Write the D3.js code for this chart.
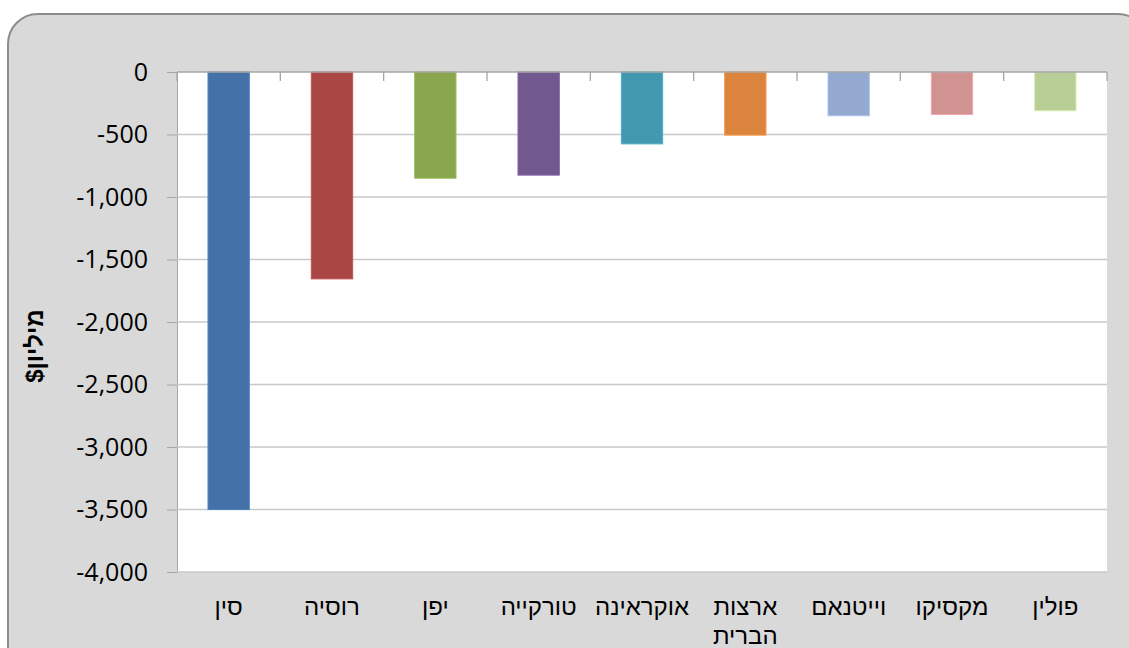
<!DOCTYPE html>
<html><head><meta charset="utf-8">
<script src="https://cdn.jsdelivr.net/npm/d3@7"></script>
<style>html,body{margin:0;padding:0;background:#fff;}svg{display:block;}</style>
</head><body>
<svg id="chart" width="1129" height="648"></svg>
<script>
const categories = ["סין","רוסיה","יפן","טורקייה","אוקראינה","ארצות הברית","וייטנאם","מקסיקו","פולין"];
const values = [-3500,-1655,-850,-825,-575,-505,-350,-340,-310];
const colors = ["#4472A8","#AA4643","#89A54E","#71588F","#4198AF","#DB843D","#93A9CF","#D19392","#B9CD96"];
const yTicks = [0,-500,-1000,-1500,-2000,-2500,-3000,-3500,-4000];
const yTitle = "מיליון$";

const svg = d3.select("#chart");
const font = "'Open Sans','DejaVu Sans',sans-serif";
const hfont = "'Liberation Sans','DejaVu Sans',sans-serif";
svg.append("rect").attr("x",8).attr("y",14).attr("width",1140).attr("height",680)
  .attr("rx",30).attr("ry",30).attr("fill","#D9D9D9").attr("stroke","#8C8C8C").attr("stroke-width",2);

const L=177,R=1107,T=72,B=572;
const x = d3.scaleBand().domain(categories).range([L,R]).paddingInner(0.6).paddingOuter(0.3);
const xb = d3.scaleBand().domain(categories).range([L,R]);
const y = d3.scaleLinear().domain([0,-4000]).range([T,B]);

svg.append("rect").attr("x",L).attr("y",T).attr("width",R-L).attr("height",B-T).attr("fill","#fff");

// gridlines + y axis
const yAxis = d3.axisLeft(y).tickValues(yTicks).tickSize(10).tickFormat(d3.format(",.0f"));
const gy = svg.append("g").attr("transform",`translate(${L},0)`).call(yAxis);
gy.select(".domain").attr("stroke","#A6A6A6");
gy.selectAll(".tick line").attr("stroke","#A6A6A6");
gy.selectAll(".tick text").attr("x",-29).attr("font-family",font).attr("font-size",25).attr("fill","#000")
  .text(d=>d3.format(",")(d).replace("−","-"));
svg.append("g").selectAll("line").data(yTicks.slice(1)).join("line")
  .attr("x1",L).attr("x2",R).attr("y1",d=>y(d)).attr("y2",d=>y(d))
  .attr("stroke","#C8C8C8").attr("stroke-width",1.3);

// bars
svg.append("g").selectAll("rect").data(categories).join("rect")
  .attr("x",d=>x(d)).attr("width",x.bandwidth())
  .attr("y",y(0)).attr("height",(d,i)=>y(values[i])-y(0))
  .attr("fill",(d,i)=>colors[i])
  .attr("stroke",(d,i)=>d3.color(colors[i]).brighter(0.4)).attr("stroke-width",1);

// x axis at zero
const gx = svg.append("g");
gx.append("line").attr("x1",L).attr("x2",R).attr("y1",T).attr("y2",T).attr("stroke","#A6A6A6").attr("stroke-width",1.3);
const bounds = categories.map(c=>xb(c)+xb.bandwidth()).concat([L]);
gx.selectAll(".tk").data(bounds).join("line").attr("class","tk")
  .attr("x1",d=>d).attr("x2",d=>d).attr("y1",T).attr("y2",T+9).attr("stroke","#A6A6A6").attr("stroke-width",1.3);

// category labels
const lab = svg.append("g");
categories.forEach(c=>{
  const cx = xb(c)+xb.bandwidth()/2;
  const t = lab.append("text").attr("x",cx).attr("y",615).attr("text-anchor","middle")
    .attr("font-family",hfont).attr("font-size",24).attr("fill","#000").attr("direction","rtl").text(c);
  if (t.node().getComputedTextLength() > xb.bandwidth()+5) {
    const words = c.split(" ");
    t.text(null);
    words.forEach((w,i)=>t.append("tspan").attr("x",cx).attr("y",615+i*29).text(w));
  }
});

// y title
svg.append("text").attr("transform","translate(43,346) rotate(-90)").attr("text-anchor","middle")
  .attr("direction","rtl").attr("font-family",hfont).attr("font-weight","bold").attr("font-size",24)
  .attr("fill","#000").text(yTitle);
</script>
</body></html>
